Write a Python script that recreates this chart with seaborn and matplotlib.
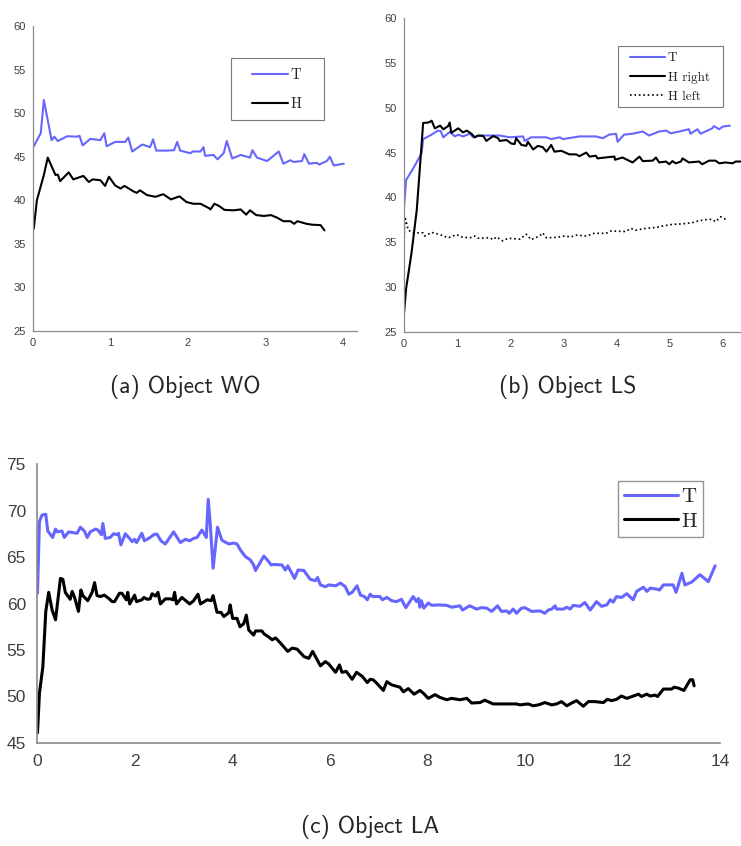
import numpy as np
import pandas as pd
import matplotlib
matplotlib.use("Agg")
import matplotlib.pyplot as plt
from matplotlib.patches import Rectangle
import seaborn as sns

# ---------------- data ----------------
# (a) Object WO
a_t_x = [0.01, 0.1, 0.14, 0.24, 0.275, 0.32, 0.44, 0.57, 0.6, 0.64, 0.74, 0.87, 0.92, 0.95, 1.06, 1.19, 1.23, 1.28,
         1.41, 1.51, 1.55, 1.59, 1.73, 1.82, 1.86, 1.9, 2.03, 2.06, 2.16, 2.2, 2.22, 2.33, 2.38, 2.46, 2.5, 2.57,
         2.68, 2.8, 2.83, 2.89, 3.02, 3.17, 3.23, 3.32, 3.36, 3.47, 3.5, 3.56, 3.66, 3.69, 3.79, 3.83, 3.88, 4.01]
a_t_y = [46.2, 47.7, 51.5, 46.9, 47.3, 46.8, 47.35, 47.3, 47.4, 46.3, 47.05, 46.9, 47.7, 46.2, 46.7, 46.7, 47.2, 45.6,
         46.4, 46.1, 47.0, 45.7, 45.7, 45.75, 46.7, 45.7, 45.4, 45.6, 45.6, 46.1, 45.1, 45.2, 44.7, 45.4, 46.8, 44.8,
         45.2, 44.9, 45.75, 44.9, 44.5, 45.6, 44.2, 44.6, 44.4, 44.5, 45.3, 44.2, 44.3, 44.1, 44.5, 45.0, 44.0, 44.2]
a_h_x = [0.01, 0.05, 0.14, 0.19, 0.29, 0.32, 0.35, 0.46, 0.52, 0.65, 0.72, 0.77, 0.87, 0.93, 0.98, 1.06, 1.13, 1.18,
         1.3, 1.34, 1.38, 1.47, 1.58, 1.68, 1.78, 1.89, 1.98, 2.07, 2.16, 2.27, 2.29, 2.34, 2.4, 2.47, 2.59, 2.68,
         2.75, 2.8, 2.88, 2.98, 3.07, 3.15, 3.23, 3.32, 3.37, 3.41, 3.53, 3.6, 3.71, 3.76]
a_h_y = [36.75, 40.0, 42.9, 44.9, 42.9, 42.95, 42.2, 43.2, 42.4, 42.8, 42.1, 42.4, 42.3, 41.65, 42.7, 41.7, 41.35, 41.65,
         41.0, 40.85, 41.15, 40.6, 40.4, 40.7, 40.1, 40.45, 39.8, 39.6, 39.6, 39.1, 38.95, 39.6, 39.35, 38.9, 38.85, 38.95,
         38.35, 38.85, 38.3, 38.2, 38.3, 38.0, 37.6, 37.6, 37.3, 37.6, 37.3, 37.2, 37.15, 36.55]

# (b) Object LS
b_t_x = [0.0, 0.04, 0.175, 0.33, 0.36, 0.49, 0.64, 0.69, 0.74, 0.86, 0.96, 1.02, 1.11, 1.24, 1.3, 1.43, 1.61, 1.8,
         1.99, 2.24, 2.27, 2.39, 2.68, 2.77, 2.93, 2.99, 3.3, 3.61, 3.74, 3.86, 3.99, 4.02, 4.14, 4.3, 4.49, 4.61,
         4.8, 4.93, 5.02, 5.18, 5.36, 5.39, 5.52, 5.58, 5.8, 5.83, 5.93, 6.0, 6.13]
b_t_y = [38.96, 41.94, 43.25, 44.9, 46.5, 46.9, 47.45, 47.4, 46.7, 47.3, 46.8, 47.0, 46.8, 47.1, 46.7, 46.9, 46.9, 46.9,
         46.7, 46.8, 46.3, 46.7, 46.7, 46.5, 46.7, 46.5, 46.8, 46.8, 46.6, 47.0, 47.1, 46.2, 47.0, 47.1, 47.35, 46.9,
         47.35, 47.45, 47.15, 47.35, 47.6, 47.1, 47.6, 47.1, 47.7, 47.95, 47.6, 47.9, 48.0]
b_hr_x = [0.0, 0.04, 0.14, 0.24, 0.3, 0.36, 0.46, 0.52, 0.58, 0.68, 0.74, 0.83, 0.86, 0.89, 1.02, 1.11, 1.18, 1.27,
          1.33, 1.39, 1.49, 1.55, 1.68, 1.77, 1.8, 1.93, 2.02, 2.08, 2.11, 2.21, 2.3, 2.33, 2.43, 2.52, 2.61, 2.68,
          2.77, 2.83, 2.96, 3.11, 3.24, 3.3, 3.43, 3.49, 3.61, 3.64, 3.86, 3.96, 3.97, 4.11, 4.3, 4.43, 4.49, 4.68,
          4.74, 4.8, 4.93, 4.99, 5.05, 5.11, 5.21, 5.24, 5.36, 5.55, 5.61, 5.74, 5.86, 5.93, 6.05, 6.18, 6.24, 6.34]
b_hr_y = [27.05, 29.85, 33.75, 38.6, 43.4, 48.3, 48.35, 48.55, 47.7, 48.0, 47.6, 47.95, 48.35, 47.2, 47.7, 47.25, 47.45, 47.1,
          46.7, 46.9, 46.85, 46.3, 46.85, 46.6, 46.3, 46.4, 46.0, 45.95, 46.6, 45.85, 45.75, 46.2, 45.35, 45.75, 45.6, 45.1,
          45.85, 45.1, 45.2, 44.8, 44.8, 44.6, 45.0, 44.55, 44.65, 44.35, 44.5, 44.55, 44.2, 44.45, 43.9, 44.55, 44.05, 44.1,
          44.45, 43.9, 44.0, 43.7, 44.05, 43.8, 44.0, 44.35, 43.9, 44.0, 43.7, 44.1, 44.1, 43.8, 43.9, 43.8, 44.0, 44.0]
b_hl_x = [0.0, 0.02, 0.05, 0.08, 0.175, 0.36, 0.39, 0.52, 0.68, 0.83, 0.99, 1.08, 1.24, 1.33, 1.39, 1.61, 1.68, 1.74,
          1.86, 1.96, 2.18, 2.3, 2.39, 2.55, 2.61, 2.68, 2.86, 3.02, 3.14, 3.24, 3.43, 3.58, 3.8, 3.89, 4.17, 4.27,
          4.36, 4.55, 4.74, 4.86, 5.05, 5.24, 5.43, 5.55, 5.71, 5.8, 5.86, 5.96, 6.02, 6.08]
b_hl_y = [35.05, 37.85, 37.1, 36.35, 36.05, 36.05, 35.7, 36.1, 35.85, 35.5, 35.85, 35.6, 35.5, 35.7, 35.45, 35.5, 35.3, 35.6,
          35.15, 35.45, 35.35, 35.9, 35.3, 35.7, 36.05, 35.5, 35.55, 35.7, 35.6, 35.8, 35.7, 36.0, 36.0, 36.25, 36.2, 36.55,
          36.35, 36.55, 36.65, 36.8, 37.0, 37.05, 37.2, 37.4, 37.55, 37.55, 37.3, 37.85, 37.65, 37.45]

# (c) Object LA
c_t_x = [0.01, 0.05, 0.1, 0.18, 0.22, 0.32, 0.38, 0.42, 0.51, 0.56, 0.65, 0.82, 0.89, 0.97, 1.03, 1.09, 1.2, 1.25,
         1.32, 1.35, 1.4, 1.5, 1.57, 1.64, 1.67, 1.72, 1.81, 1.88, 1.95, 2.0, 2.04, 2.15, 2.2, 2.29, 2.41, 2.46,
         2.54, 2.63, 2.8, 2.94, 3.04, 3.13, 3.21, 3.28, 3.38, 3.47, 3.51, 3.55, 3.61, 3.7, 3.79, 3.93, 4.03, 4.1,
         4.17, 4.27, 4.37, 4.44, 4.48, 4.65, 4.75, 4.8, 4.85, 5.02, 5.09, 5.14, 5.28, 5.35, 5.47, 5.6, 5.71, 5.75,
         5.81, 5.91, 5.98, 6.12, 6.22, 6.32, 6.39, 6.46, 6.56, 6.63, 6.71, 6.77, 6.83, 6.88, 7.03, 7.08, 7.17,
         7.27, 7.37, 7.47, 7.56, 7.71, 7.78, 7.82, 7.85, 7.88, 7.93, 8.02, 8.09, 8.23, 8.4, 8.5, 8.67, 8.72, 8.87,
         9.01, 9.11, 9.22, 9.32, 9.44, 9.52, 9.63, 9.68, 9.76, 9.83, 9.93, 10.0, 10.14, 10.31, 10.41, 10.48,
         10.55, 10.62, 10.65, 10.79, 10.86, 10.93, 10.99, 11.13, 11.23, 11.34, 11.47, 11.57, 11.68, 11.75,
         11.81, 11.88, 11.98, 12.09, 12.22, 12.29, 12.43, 12.5, 12.57, 12.7, 12.76, 12.84, 13.04, 13.1, 13.22,
         13.28, 13.42, 13.59, 13.76, 13.9]
c_t_y = [61.1, 68.8, 69.5, 69.6, 67.8, 67.1, 68.0, 67.7, 67.8, 67.1, 67.7, 67.55, 68.2, 67.8, 67.1, 67.7, 68.0, 67.9,
         67.4, 68.6, 67.0, 67.1, 67.5, 67.4, 67.55, 66.3, 67.5, 67.1, 66.65, 66.9, 66.55, 67.55, 66.75, 67.0, 67.45, 67.45,
         66.75, 66.4, 67.7, 66.55, 66.9, 66.75, 67.0, 67.1, 67.9, 67.1, 71.2, 68.6, 63.8, 68.2, 66.8, 66.4, 66.5, 66.4,
         65.75, 65.05, 64.7, 64.15, 63.55, 65.1, 64.5, 64.15, 64.2, 64.15, 63.6, 64.05, 62.7, 63.6, 63.55, 62.6, 62.45, 62.8,
         62.0, 61.8, 62.0, 61.9, 62.2, 61.8, 61.0, 61.2, 61.9, 60.9, 60.75, 60.4, 61.0, 60.75, 60.75, 60.4, 60.65,
         60.3, 60.2, 60.45, 59.55, 60.75, 60.2, 60.55, 59.6, 60.3, 59.5, 60.05, 59.8, 59.85, 59.8, 59.6, 59.75, 59.3, 59.75,
         59.4, 59.55, 59.5, 59.15, 59.75, 59.15, 59.2, 58.95, 59.4, 58.95, 59.5, 59.55, 59.15, 59.2, 58.95, 59.3,
         59.4, 59.75, 59.4, 59.4, 59.6, 59.4, 59.8, 59.7, 60.1, 59.3, 60.2, 59.7, 59.85, 60.4,
         60.15, 60.75, 60.65, 61.05, 60.4, 61.3, 61.75, 61.3, 61.65, 61.55, 61.45, 62.0, 62.0, 61.2, 63.25,
         62.0, 62.3, 63.1, 62.35, 64.05]
c_h_x = [0.01, 0.05, 0.12, 0.18, 0.24, 0.31, 0.38, 0.48, 0.53, 0.58, 0.68, 0.72, 0.77, 0.85, 0.9, 0.94, 1.04, 1.13,
         1.18, 1.23, 1.3, 1.38, 1.47, 1.54, 1.59, 1.69, 1.74, 1.83, 1.86, 1.9, 2.0, 2.04, 2.15, 2.19, 2.26, 2.32,
         2.36, 2.43, 2.48, 2.53, 2.63, 2.73, 2.79, 2.82, 2.86, 2.97, 3.13, 3.21, 3.3, 3.35, 3.49, 3.57, 3.61, 3.69,
         3.77, 3.83, 3.93, 3.96, 4.01, 4.1, 4.16, 4.24, 4.29, 4.34, 4.44, 4.48, 4.61, 4.65, 4.75, 4.82, 4.89, 4.99,
         5.14, 5.23, 5.33, 5.47, 5.57, 5.65, 5.81, 5.91, 5.98, 6.12, 6.2, 6.25, 6.34, 6.46, 6.55, 6.67, 6.77,
         6.83, 6.89, 6.96, 7.1, 7.17, 7.27, 7.44, 7.51, 7.61, 7.73, 7.85, 7.92, 8.02, 8.16, 8.26, 8.4, 8.5, 8.67,
         8.81, 8.91, 9.08, 9.18, 9.35, 9.52, 9.63, 9.83, 9.9, 10.07, 10.17, 10.28, 10.41, 10.55, 10.65, 10.75,
         10.86, 10.96, 11.06, 11.2, 11.3, 11.44, 11.61, 11.69, 11.78, 11.88, 11.98, 12.09, 12.22, 12.33, 12.39,
         12.5, 12.57, 12.67, 12.72, 12.84, 13.01, 13.06, 13.15, 13.26, 13.39, 13.44, 13.47]
c_h_y = [46.1, 50.35, 53.2, 59.15, 61.2, 59.3, 58.25, 62.7, 62.6, 61.2, 60.45, 61.3, 60.65, 59.15, 61.45, 60.85, 60.3, 61.2,
         62.25, 60.85, 60.75, 60.9, 60.55, 60.2, 60.2, 61.1, 61.1, 60.4, 61.2, 59.95, 60.9, 60.2, 60.4, 60.65, 60.45, 60.5,
         61.05, 60.8, 61.2, 59.95, 60.5, 60.5, 60.4, 61.2, 59.95, 60.65, 59.95, 60.3, 61.0, 59.95, 60.4, 60.3, 60.85, 59.05,
         59.05, 58.6, 59.0, 59.85, 58.4, 58.4, 57.5, 57.85, 58.75, 57.15, 56.6, 57.05, 57.05, 56.75, 56.4, 56.1, 56.3, 55.75,
         54.85, 55.2, 55.1, 54.3, 54.1, 54.85, 53.3, 53.75, 53.5, 52.6, 53.4, 52.6, 52.7, 51.85, 52.6, 52.15, 51.5,
         51.85, 51.8, 51.45, 50.65, 51.6, 51.25, 51.0, 50.5, 50.85, 50.25, 50.65, 50.35, 49.8, 50.2, 49.9, 49.65, 49.8, 49.65,
         49.8, 49.3, 49.35, 49.6, 49.2, 49.2, 49.2, 49.2, 49.1, 49.2, 49.0, 49.1, 49.35, 49.1, 49.2, 49.45,
         49.0, 49.3, 49.55, 48.95, 49.45, 49.45, 49.35, 49.7, 49.55, 49.7, 50.05, 49.8, 50.05, 50.25, 50.0,
         50.25, 50.05, 50.15, 50.0, 50.8, 50.8, 51.0, 50.9, 50.65, 51.8, 51.8, 51.15]

captions = ["(a) Object WO", "(b) Object LS", "(c) Object LA"]

# ---------------- style ----------------
sns.set_style("white")
plt.rcParams['font.family'] = ['Liberation Sans', 'DejaVu Sans']

BLUE = "#6666ff"
BLACK = "#000000"
SPINE = "#8a8a8a"
TICKTXT = "#404040"
FRAME = "#7a7a7a"

W, H = 741, 846
fig = plt.figure(figsize=(W / 100, H / 100), dpi=100)


def ax_px(left, right, top, bottom):
    ax = fig.add_axes([left / W, 1 - bottom / H, (right - left) / W, (bottom - top) / H])
    ax._px = (left, right, top, bottom)
    return ax


def fx(ax, px):
    l, r, t, b = ax._px
    return (px - l) / (r - l)


def fy(ax, py):
    l, r, t, b = ax._px
    return (b - py) / (b - t)


def style(ax, size, ticklen, pad, lw):
    sns.despine(ax=ax)
    for s in ("left", "bottom"):
        ax.spines[s].set_color(SPINE)
        ax.spines[s].set_linewidth(lw)
    ax.tick_params(direction="in", length=ticklen, width=lw, color=SPINE,
                   labelsize=size, labelcolor=TICKTXT, pad=pad)
    ax.set_xlabel("")
    ax.set_ylabel("")


def line(ax, x, y, color, lw, label, ls="-"):
    df = pd.DataFrame({"x": x, "y": y})
    sns.lineplot(data=df, x="x", y="y", ax=ax, color=color, lw=lw, ls=ls,
                 label=label, sort=False, estimator=None)


def boxed_legend(ax, box, handle_x, first_c, spacing, fs, handle_len):
    # box = (x0, x1, y0, y1) in figure pixels; text rows placed inside
    fs_px = fs * 100 / 72
    row_h = 0.9 * fs_px
    ls = (spacing - row_h) / fs_px
    ax.legend(loc="upper left", bbox_to_anchor=(fx(ax, handle_x), fy(ax, first_c - row_h / 2)),
              borderaxespad=0, borderpad=0, frameon=False, handlelength=handle_len / fs_px,
              handletextpad=0.2, labelspacing=ls, prop={"family": "cmr10", "size": fs})
    x0, x1, y0, y1 = box
    ax.add_patch(Rectangle((fx(ax, x0), fy(ax, y1)), fx(ax, x1) - fx(ax, x0), fy(ax, y0) - fy(ax, y1),
                           transform=ax.transAxes, fill=False, edgecolor=FRAME, lw=0.8,
                           clip_on=False, zorder=5))


# (a)
ax1 = ax_px(33, 357, 26, 331)
line(ax1, a_t_x, a_t_y, BLUE, 1.5, "T")
line(ax1, a_h_x, a_h_y, BLACK, 1.5, "H")
ax1.set_xlim(0, 4.18)
ax1.set_ylim(25, 60)
ax1.set_xticks(range(0, 5))
ax1.set_yticks(range(25, 61, 5))
style(ax1, 8, 3, 5, 0.9)
boxed_legend(ax1, (231, 324, 58, 120), 252, 75, 28, 10.5, 36)

# (b)
ax2 = ax_px(404, 741, 18, 332)
line(ax2, b_t_x, b_t_y, BLUE, 1.5, "T")
line(ax2, b_hr_x, b_hr_y, BLACK, 1.5, "H right")
line(ax2, b_hl_x, b_hl_y, BLACK, 1.2, "H left", ls=":")
ax2.set_xlim(0, 6.34)
ax2.set_ylim(25, 60)
ax2.set_xticks(range(0, 7))
ax2.set_yticks(range(25, 61, 5))
style(ax2, 8, 3, 5, 0.9)
boxed_legend(ax2, (618, 723, 46, 107), 630, 58, 19, 9.5, 35)

# (c)
ax3 = ax_px(37, 720, 464, 743)
line(ax3, c_t_x, c_t_y, BLUE, 2.2, "T")
line(ax3, c_h_x, c_h_y, BLACK, 2.2, "H")
ax3.set_xlim(0, 14)
ax3.set_ylim(45, 75)
ax3.set_xticks(range(0, 15, 2))
ax3.set_yticks(range(45, 76, 5))
style(ax3, 12.5, 5, 8, 1.2)
leg = ax3.legend(loc="upper left", bbox_to_anchor=(fx(ax3, 618), fy(ax3, 481)), borderaxespad=0,
                 frameon=True, fancybox=False, handlelength=2.6, labelspacing=0.3,
                 handletextpad=0.15, borderpad=0.3, prop={"family": "cmr10", "size": 15})
leg.get_frame().set_edgecolor(FRAME)
leg.get_frame().set_linewidth(1.0)

# captions
fig.text(185 / W, 1 - 387 / H, captions[0], ha="center", va="center", fontsize=17, family="cmss10")
fig.text(568 / W, 1 - 387 / H, captions[1], ha="center", va="center", fontsize=17, family="cmss10")
fig.text(370 / W, 1 - 827 / H, captions[2], ha="center", va="center", fontsize=17, family="cmss10")

fig.savefig("out.png", dpi=100)
